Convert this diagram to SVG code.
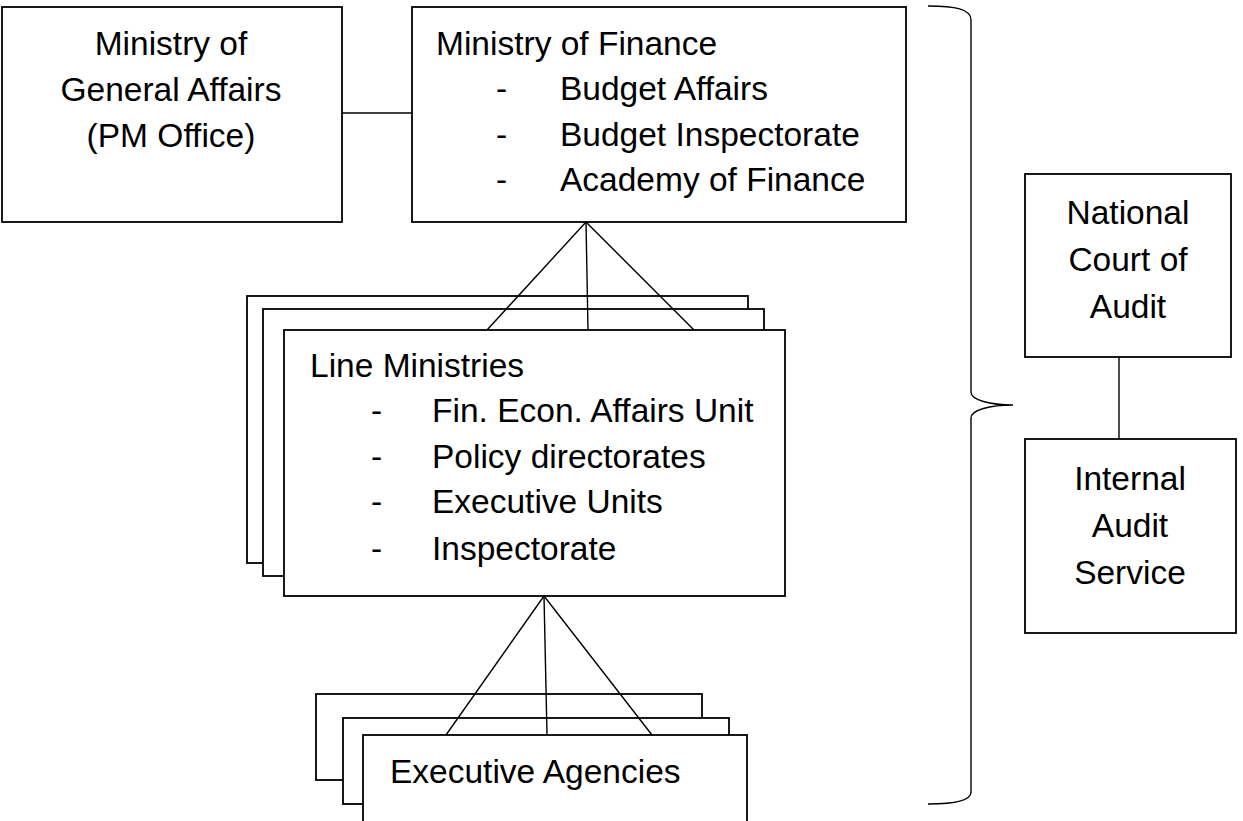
<svg xmlns="http://www.w3.org/2000/svg" width="1243" height="821" viewBox="0 0 1243 821">
<style>
.box{fill:#fff;stroke:#000;stroke-width:1.8}
.ln{fill:none;stroke:#000;stroke-width:1.4}
text{font-family:"Liberation Sans",Arial,sans-serif;font-size:33.5px;fill:#000}
.c{text-anchor:middle}
</style>
<rect width="1243" height="821" fill="#fff"/>
<g id="pm-office">
<rect class="box" x="2" y="7" width="340" height="215"/>
<text class="c" x="171" y="55">Ministry of</text>
<text class="c" x="171" y="101">General Affairs</text>
<text class="c" x="171" y="147">(PM Office)</text>
</g>
<g id="ministry-finance">
<rect class="box" x="412" y="7" width="494" height="215"/>
<text x="436" y="55">Ministry of Finance</text>
<text x="496" y="100">-</text><text x="560" y="100">Budget Affairs</text>
<text x="496" y="146">-</text><text x="560" y="146">Budget Inspectorate</text>
<text x="496" y="191">-</text><text x="560" y="191">Academy of Finance</text>
</g>
<g id="line-ministries">
<rect class="box" x="247" y="296" width="501" height="267"/>
<rect class="box" x="263" y="309" width="501" height="267"/>
<rect class="box" x="284" y="330" width="501" height="266"/>
<text x="310" y="377">Line Ministries</text>
<text x="371" y="422">-</text><text x="432" y="422">Fin. Econ. Affairs Unit</text>
<text x="371" y="468">-</text><text x="432" y="468">Policy directorates</text>
<text x="371" y="513">-</text><text x="432" y="513">Executive Units</text>
<text x="371" y="560">-</text><text x="432" y="560">Inspectorate</text>
</g>
<g id="executive-agencies">
<rect class="box" x="316" y="694" width="386" height="86"/>
<rect class="box" x="343" y="718" width="386" height="86"/>
<rect class="box" x="363" y="735" width="384" height="100"/>
<text x="390" y="783">Executive Agencies</text>
</g>
<g id="brace">
<path class="ln" d="M928,6 C955,6 971,9 971,20 L971,392 C971,400 990,405 1013,405 C990,405 971,410 971,418 L971,792 C971,800 955,804 928,804"/>
</g>
<g id="national-court">
<rect class="box" x="1025" y="174" width="206" height="183"/>
<text class="c" x="1128" y="224">National</text>
<text class="c" x="1128" y="271">Court of</text>
<text class="c" x="1128" y="318">Audit</text>
</g>
<g id="internal-audit">
<rect class="box" x="1025" y="439" width="211" height="194"/>
<text class="c" x="1130" y="490">Internal</text>
<text class="c" x="1130" y="537">Audit</text>
<text class="c" x="1130" y="584">Service</text>
</g>
<g id="connectors">
<line class="ln" x1="342" y1="113" x2="412" y2="113"/>
<line class="ln" x1="586" y1="222" x2="487" y2="330"/>
<line class="ln" x1="586" y1="222" x2="588" y2="330"/>
<line class="ln" x1="586" y1="222" x2="694" y2="330"/>
<line class="ln" x1="544" y1="596" x2="446" y2="735"/>
<line class="ln" x1="544" y1="596" x2="547" y2="735"/>
<line class="ln" x1="544" y1="596" x2="652" y2="735"/>
<line class="ln" x1="1119" y1="357" x2="1119" y2="439"/>
</g>
</svg>
